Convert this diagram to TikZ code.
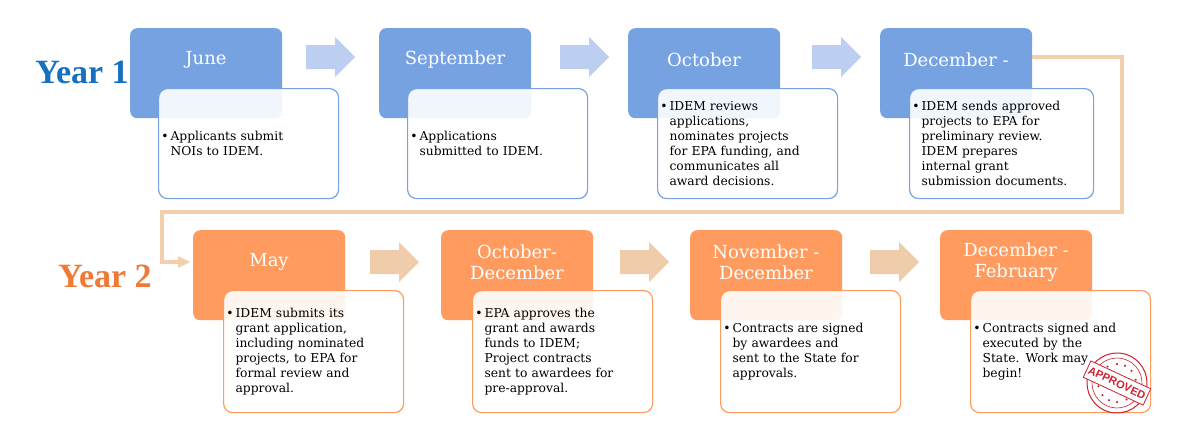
\documentclass[tikz,border=0pt]{standalone}
\usepackage{fontspec}
\setmainfont{DejaVu Serif}
\newfontfamily\yearfont{Liberation Serif}
\newfontfamily\stampfont{Liberation Sans}
\definecolor{bhead}{HTML}{77A2E2}
\definecolor{barrow}{HTML}{BCCFF0}
\definecolor{ohead}{HTML}{FF9B5E}
\definecolor{oarrow}{HTML}{F0CDAA}
\definecolor{conn}{HTML}{F2D0AE}
\definecolor{yblue}{HTML}{1570C0}
\definecolor{yorange}{HTML}{F07A35}
\definecolor{stampred}{HTML}{D02030}
\begin{document}
\begin{tikzpicture}[x=1pt,y=-1pt,
  head/.style={rounded corners=7pt,minimum width=152pt,minimum height=90pt,anchor=north west,inner sep=0pt},
  htext/.style={text=white,font=\fontsize{18}{21}\selectfont,align=center},
  detail/.style={draw,line width=1.2pt,rounded corners=9pt,fill=white,fill opacity=0.9,text opacity=1,anchor=north west,minimum height=110pt,text width=156pt,inner xsep=12pt,inner ysep=0pt,font=\fontsize{12.3}{15}\selectfont,align=left},
  yr/.style={font=\yearfont\bfseries\fontsize{34}{36}\selectfont}]
\useasboundingbox (0,0) rectangle (1200,445);
\node[yr,text=yblue] (y1) at (82,72) {Year 1};
\node[yr,text=yorange] (y2) at (105,276) {Year 2};
% connector
\coordinate (c1) at (1122,57);
\coordinate (c2) at (1122,212);
\coordinate (c3) at (162,212);
\coordinate (c4) at (162,262);
% top row
\foreach \n/\x/\t in {a/130/June,b/379/September,c/628/October,d/880/December -}{
  \node[head,fill=bhead] (h\n) at (\x,28) {};
  \node[htext] at (\x+76,60) {\t};
}
\draw[conn,line width=3.5pt] (hd.east|-c1) -- (c1) -- (c2) -- (c3) -- (c4) -- ++(20,0) coordinate (c5);
\fill[conn] (c5)++(8,0) -- ++(-12,-6) -- ++(0,12) -- cycle;
\node[detail,draw=bhead] (da) at (158,88) {\hbox to 0pt{\hss•\,}Applicants submit\\NOIs to IDEM.\\[4.5em]};
\node[detail,draw=bhead] (db) at (407,88) {\hbox to 0pt{\hss•\,}Applications\\submitted to IDEM.\\[4.5em]};
\node[detail,draw=bhead] (dc) at (657,88) {\hbox to 0pt{\hss•\,}IDEM reviews\\applications,\\nominates projects\\for EPA funding, and\\communicates all\\award decisions.};
\node[detail,draw=bhead,text width=160pt] (dd) at (909,88) {\hbox to 0pt{\hss•\,}IDEM sends approved\\projects to EPA for\\preliminary review.\\IDEM prepares\\internal grant\\submission documents.};
\foreach \x/\c in {306/barrow,560/barrow,812/barrow,370/oarrow,620/oarrow,870/oarrow}{
  \pgfmathsetmacro{\yy}{\x<360 || (\x>500 && \x<600) || (\x>800 && \x<850) ? 57 : 262}
  \fill[\c] (\x,\yy-12) -- (\x+29,\yy-12) -- (\x+29,\yy-20) -- (\x+49,\yy) -- (\x+29,\yy+20) -- (\x+29,\yy+12) -- (\x,\yy+12) -- cycle;
}
% bottom row
\node[head,fill=ohead] (he) at (193,230) {};
\node[head,fill=ohead] (hf) at (441,230) {};
\node[head,fill=ohead] (hg) at (690,230) {};
\node[head,fill=ohead] (hh) at (940,230) {};
\node[htext] at (269,262) {May};
\node[htext] at (517,262) {October-\\December};
\node[htext] at (766,262) {November -\\December};
\node[htext] at (1016,262) {December -\\February};
\node[detail,draw=ohead,minimum height=122pt] (de) at (223,290) {\hbox to 0pt{\hss•\,}IDEM submits its\\grant application,\\including nominated\\projects, to EPA for\\formal review and\\approval.};
\node[detail,draw=ohead,minimum height=122pt] (df) at (472,290) {\hbox to 0pt{\hss•\,}EPA approves the\\grant and awards\\funds to IDEM;\\Project contracts\\sent to awardees for\\pre-approval.};
\node[detail,draw=ohead,minimum height=122pt] (dg) at (720,290) {\hbox to 0pt{\hss•\,}Contracts are signed\\by awardees and\\sent to the State for\\approvals.\\[4.5em]};
\node[detail,draw=ohead,minimum height=122pt] (dh) at (970,290) {\hbox to 0pt{\hss•\,}Contracts signed and\\executed by the\\State. Work may\\begin!\\[4.5em]};
% stamp
\begin{scope}[shift={(1117,383)},rotate=-25]
\draw[stampred,line width=1pt] (0,0) circle (30pt);
\draw[stampred,line width=0.6pt] (0,0) circle (25pt);
\foreach \a in {35,65,90,115,145,215,245,270,295,325}{\fill[stampred] (\a:19pt) circle (1.2pt);}
\fill[white] (-33,-9) rectangle (33,9);
\draw[stampred,line width=0.8pt] (-33,-9) rectangle (33,9);
\node[font=\stampfont\bfseries\fontsize{11}{11}\selectfont,inner sep=0pt,text=stampred,rotate=-25] (st) at (0,0) {APPROVED};
\end{scope}
\end{tikzpicture}
\end{document}
